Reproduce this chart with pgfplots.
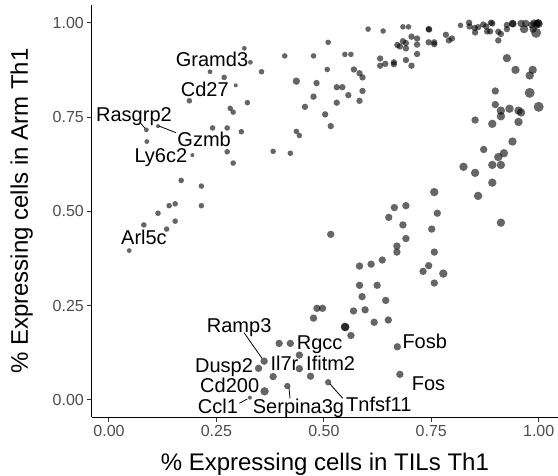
\documentclass[border=0pt]{standalone}
\usepackage{fontspec}
\setmainfont{Liberation Sans}
\usepackage{pgfplots}
\pgfplotsset{compat=1.18}
\definecolor{tickgray}{RGB}{77,77,77}
\definecolor{tickline}{RGB}{51,51,51}
\pgfplotsset{pt/.style={only marks, mark=*, mark size=#1, mark options={fill=black, fill opacity=0.6, draw opacity=0}}}
\tikzset{lab/.style={anchor=base west, inner sep=0pt, font=\fontsize{20}{24}\selectfont}}
\begin{document}
\begin{tikzpicture}
\useasboundingbox (-91.7pt,-58.7pt) rectangle (466.3pt,417.3pt);
\begin{axis}[
  scale only axis, width=466.3pt, height=412.3pt,
  xmin=-0.04026, xmax=1.04491, ymin=-0.04585, ymax=1.04691,
  axis x line*=bottom, axis y line*=left,
  axis line style={line width=1.1pt, black},
  tick align=outside, tick pos=left,
  major tick length=4.3pt,
  every tick/.style={line width=1pt, tickline},
  xtick={0,0.25,0.5,0.75,1}, xticklabels={0.00,0.25,0.50,0.75,1.00},
  ytick={0,0.25,0.5,0.75,1}, yticklabels={0.00,0.25,0.50,0.75,1.00},
  /pgf/number format/assume math mode=true,
  ticklabel style={font=\fontsize{16}{19}\selectfont, text=tickgray},
  clip=false,
]
% tiny
\addplot[pt=2.0pt] coordinates {(0.295,0.834) (0.114,0.726) (0.194,0.649) (0.328,0.006)};
% r 2.4
\addplot[pt=2.4pt] coordinates {(0.315,0.932) (0.329,0.895) (0.235,0.870) (0.087,0.716) (0.088,0.685) (0.047,0.396)};
% r 2.8
\addplot[pt=2.8pt] coordinates {(0.268,0.855) (0.355,0.870) (0.409,0.912) (0.476,0.912) (0.510,0.948) (0.508,0.876) (0.187,0.793) (0.282,0.773) (0.289,0.763) (0.322,0.788) (0.241,0.721) (0.275,0.721) (0.308,0.711) (0.436,0.712) (0.443,0.701) (0.275,0.658) (0.382,0.659) (0.422,0.654) (0.289,0.628) (0.168,0.582) (0.215,0.567) (0.140,0.515) (0.154,0.520) (0.215,0.515) (0.114,0.495) (0.081,0.464) (0.154,0.474) (0.134,0.453) (0.603,0.983) (0.638,0.978) (0.684,0.989) (0.697,0.989) (0.549,0.916) (0.563,0.916) (0.818,0.993)};
% r 3.2
\addplot[pt=3.2pt] coordinates {(0.483,0.840) (0.476,0.804) (0.456,0.777) (0.503,0.757) (0.516,0.726) (0.744,0.983) (0.745,0.982) (0.570,0.876) (0.583,0.866) (0.590,0.855) (0.530,0.829) (0.543,0.829) (0.590,0.819) (0.557,0.808) (0.530,0.788) (0.583,0.793) (0.671,0.941) (0.677,0.937) (0.684,0.951) (0.691,0.946) (0.691,0.932) (0.704,0.963) (0.717,0.958) (0.717,0.942) (0.717,0.917) (0.744,0.948) (0.757,0.948) (0.757,0.943) (0.784,0.968) (0.791,0.953) (0.798,0.958) (0.631,0.905) (0.631,0.886) (0.643,0.891) (0.663,0.895) (0.663,0.890) (0.691,0.901) (0.704,0.886) (0.838,1.000) (0.839,0.990) (0.851,0.986) (0.859,0.988) (0.852,0.974) (0.871,0.995) (0.878,0.990) (0.880,0.977) (0.889,1.000) (0.892,0.998) (0.887,0.977) (0.906,0.976) (0.912,0.970) (0.906,0.953) (0.926,0.994) (0.926,0.983) (0.510,0.047) (0.415,0.037)};
% r 3.7
\addplot[pt=3.7pt] coordinates {(0.436,0.845) (0.516,0.439) (0.939,0.998) (0.940,0.997) (0.959,0.998) (0.970,0.998) (0.984,0.994) (0.995,0.998) (0.987,0.983) (0.999,1.000) (0.996,0.995) (0.989,0.999) (0.899,0.819) (0.899,0.783) (0.852,0.742) (0.872,0.664) (0.764,0.495) (0.751,0.453) (0.757,0.392) (0.744,0.356) (0.731,0.341) (0.757,0.310) (0.664,0.510) (0.691,0.515) (0.651,0.484) (0.684,0.464) (0.691,0.428) (0.670,0.408) (0.670,0.392) (0.636,0.371) (0.610,0.360) (0.583,0.355) (0.583,0.304) (0.624,0.304) (0.589,0.274) (0.644,0.264) (0.569,0.236) (0.596,0.239) (0.617,0.206) (0.650,0.212) (0.563,0.171) (0.671,0.141) (0.677,0.068) (0.484,0.243) (0.497,0.243) (0.476,0.217) (0.396,0.150) (0.422,0.150) (0.443,0.119) (0.361,0.103) (0.348,0.084) (0.443,0.083) (0.382,0.062) (0.469,0.063)};
% r 4.2
\addplot[pt=4.2pt] coordinates {(0.966,0.983) (1.000,0.997) (0.926,0.906) (0.946,0.875) (0.986,0.875) (0.979,0.860) (0.912,0.767) (0.912,0.752) (0.932,0.772) (0.953,0.767) (0.959,0.762) (0.953,0.737) (0.892,0.732) (0.939,0.685) (0.919,0.654) (0.906,0.644) (0.892,0.623) (0.912,0.623) (0.825,0.618) (0.852,0.602) (0.892,0.576) (0.757,0.551) (0.859,0.541) (0.912,0.470) (0.778,0.335) (0.549,0.194) (0.550,0.193) (0.362,0.023)};
% r 5
\addplot[pt=5pt] coordinates {(0.994,0.973) (0.979,0.814) (1.000,0.777)};
% leader lines
\draw[line width=0.8pt] (axis cs:0.0738,0.7334) -- (axis cs:0.0838,0.7201);
\draw[line width=0.8pt] (axis cs:0.1161,0.7262) -- (axis cs:0.1559,0.7085);
\draw[line width=0.8pt] (axis cs:0.3142,0.1784) -- (axis cs:0.3561,0.1105);
\draw[line width=0.8pt] (axis cs:0.3032,-0.0087) -- (axis cs:0.3219,0.0027);
\draw[line width=0.8pt] (axis cs:0.4189,0.0326) -- (axis cs:0.4212,0.0045);
\draw[line width=0.8pt] (axis cs:0.5143,0.0424) -- (axis cs:0.5439,0.0045);
% labels
\node[lab] at (axis cs:0.1552,0.8845) {Gramd3};
\node[lab] at (axis cs:0.1669,0.8050) {Cd27};
\node[lab] at (axis cs:-0.0303,0.7368) {Rasgrp2};
\node[lab] at (axis cs:0.1589,0.6731) {Gzmb};
\node[lab] at (axis cs:0.0589,0.6291) {Ly6c2};
\node[lab] at (axis cs:0.0279,0.4126) {Arl5c};
\node[lab] at (axis cs:0.2274,0.1802) {Ramp3};
\node[lab] at (axis cs:0.4368,0.1339) {Rgcc};
\node[lab] at (axis cs:0.2001,0.0727) {Dusp2};
\node[lab] at (axis cs:0.3754,0.0769) {Il7r};
\node[lab] at (axis cs:0.4585,0.0769) {Ifitm2};
\node[lab] at (axis cs:0.2118,0.0196) {Cd200};
\node[lab] at (axis cs:0.2064,-0.0361) {Ccl1};
\node[lab] at (axis cs:0.3344,-0.0361) {Serpina3g};
\node[lab] at (axis cs:0.5516,-0.0308) {Tnfsf11};
\node[lab] at (axis cs:0.6826,0.1370) {Fosb};
\node[lab] at (axis cs:0.7044,0.0256) {Fos};
% axis titles
\node[anchor=base, inner sep=0pt, font=\fontsize{24}{28}\selectfont] at ([yshift=-53.7pt]rel axis cs:0.5,0) {\% Expressing cells in TILs Th1};
\node[anchor=base, rotate=90, inner sep=0pt, font=\fontsize{24}{28}\selectfont] at ([xshift=-63.7pt]rel axis cs:0,0.5) {\% Expressing cells in Arm Th1};
\end{axis}
\end{tikzpicture}
\end{document}
